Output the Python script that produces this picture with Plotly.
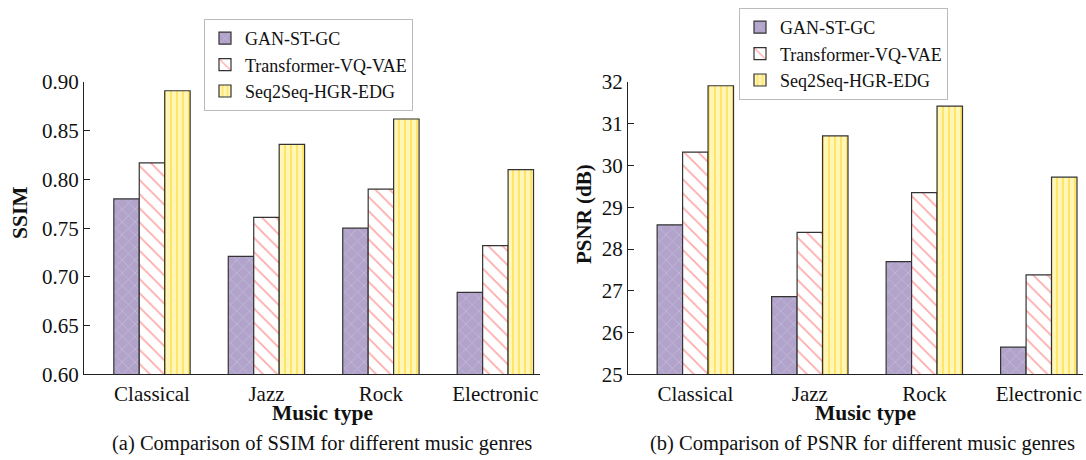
import plotly.graph_objects as go

genres = ["Classical", "Jazz", "Rock", "Electronic"]
methods = ["GAN-ST-GC", "Transformer-VQ-VAE", "Seq2Seq-HGR-EDG"]

ssim_gan = [0.780, 0.721, 0.750, 0.684]
ssim_trans = [0.817, 0.761, 0.790, 0.732]
ssim_seq = [0.891, 0.836, 0.862, 0.810]

psnr_gan = [28.58, 26.86, 27.70, 25.65]
psnr_trans = [30.32, 28.40, 29.35, 27.38]
psnr_seq = [31.91, 30.71, 31.42, 29.72]

ssim_ticks = [0.60, 0.65, 0.70, 0.75, 0.80, 0.85, 0.90]
psnr_ticks = [25, 26, 27, 28, 29, 30, 31, 32]

FONT = "Liberation Serif"
W, H = 1086, 460

styles = [
    dict(color="#b1a3ca", pattern=dict(shape="x", fgcolor="#d2c8e6", bgcolor="#b1a3ca",
                                       size=9, solidity=0.2, fillmode="overlay")),
    dict(color="#ffffff", pattern=dict(shape="\\", fgcolor="#ff4d4d", bgcolor="#ffffff",
                                       size=10, solidity=0.16, fillmode="overlay")),
    dict(color="#fff6b8", pattern=dict(shape="|", fgcolor="#ffd21a", bgcolor="#fff6b8",
                                       size=6, solidity=0.35, fillmode="overlay")),
]

fig = go.Figure()

def add_panel(vals_list, xa, ya, legend):
    for name, vals, st in zip(methods, vals_list, styles):
        fig.add_trace(go.Bar(
            x=genres, y=vals, name=name, xaxis=xa, yaxis=ya, legend=legend,
            marker=dict(color=st["color"], pattern=st["pattern"],
                        line=dict(color="#333333", width=1.2)),
        ))

add_panel([ssim_gan, ssim_trans, ssim_seq], "x", "y", "legend")
add_panel([psnr_gan, psnr_trans, psnr_seq], "x2", "y2", "legend2")

ybot = 1 - 374.3 / H
ytop = 1 - 82 / H

axis_common = dict(showgrid=False, zeroline=False, showline=True, linecolor="#222222",
                   linewidth=1.2, automargin=False,
                   tickfont=dict(family=FONT, size=21, color="#111111"))

fig.update_layout(
    template="none",
    width=W, height=H,
    margin=dict(l=0, r=0, t=0, b=0, pad=0, autoexpand=False),
    paper_bgcolor="white", plot_bgcolor="white",
    barmode="group", bargap=0.333, bargroupgap=0,
    font=dict(family=FONT, size=20, color="#111111"),
    xaxis=dict(domain=[84 / W, 540 / W], anchor="y", range=[-0.594, 3.39],
               ticks="", **axis_common),
    yaxis=dict(domain=[ybot, ytop], anchor="x", range=[0.6, 0.9],
               tickvals=ssim_ticks, tickformat=".2f", ticks="inside", ticklen=6,
               tickcolor="#222222", **axis_common),
    xaxis2=dict(domain=[628 / W, 1083 / W], anchor="y2", range=[-0.588, 3.386],
                ticks="", **axis_common),
    yaxis2=dict(domain=[ybot, ytop], anchor="x2", range=[25, 32],
                tickvals=psnr_ticks, ticks="inside", ticklen=6,
                tickcolor="#222222", **axis_common),
    legend=dict(x=204 / W, y=1 - 19 / H, xanchor="left", yanchor="top",
                bgcolor="white", bordercolor="#bbbbbb", borderwidth=1,
                font=dict(family=FONT, size=18, color="#111111"), tracegroupgap=0),
    legend2=dict(x=739 / W, y=1 - 8 / H, xanchor="left", yanchor="top",
                 bgcolor="white", bordercolor="#bbbbbb", borderwidth=1,
                 font=dict(family=FONT, size=18, color="#111111"), tracegroupgap=0),
)

ann = [
    dict(text="<b>SSIM</b>", x=20 / W, y=1 - 213 / H, textangle=-90, size=21.5),
    dict(text="<b>PSNR (dB)</b>", x=584 / W, y=1 - 214 / H, textangle=-90, size=21),
    dict(text="<b>Music type</b>", x=322 / W, y=1 - 413 / H, size=21.5),
    dict(text="<b>Music type</b>", x=865 / W, y=1 - 413 / H, size=21.5),
    dict(text="(a) Comparison of SSIM for different music genres", x=322 / W, y=1 - 443 / H, size=20.5),
    dict(text="(b) Comparison of PSNR for different music genres", x=862 / W, y=1 - 443 / H, size=20.5),
]
for a in ann:
    size = a.pop("size")
    fig.add_annotation(xref="paper", yref="paper", showarrow=False,
                       xanchor="center", yanchor="middle",
                       font=dict(family=FONT, size=size, color="#111111"), **a)

fig.write_html("out.html")
